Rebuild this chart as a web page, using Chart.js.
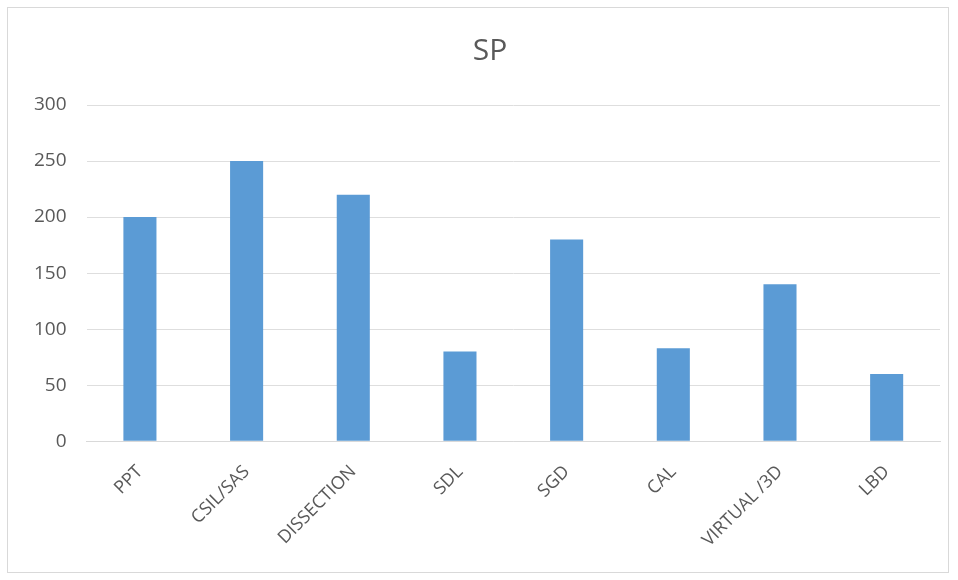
<!DOCTYPE html>
<html>
<head>
<meta charset="utf-8">
<script src="https://cdn.jsdelivr.net/npm/chart.js@4.4.1/dist/chart.umd.min.js"></script>
<style>
    body { margin: 0; background: #ffffff; }
    #wrap {
        position: absolute; left: 7px; top: 7px;
        width: 942px; height: 566px;
        border: 1px solid #d9d9d9;
        box-sizing: border-box;
        background: #ffffff;
    }
    #box { position: absolute; left: 0; top: 0; width: 958px; height: 580px; }
</style>
</head>
<body>
<div id="wrap"></div>
<div id="box"><canvas id="myChart" width="958" height="580"></canvas></div>
<script>
const categories = ["PPT", "CSIL/SAS", "DISSECTION", "SDL", "SGD", "CAL", "VIRTUAL /3D", "LBD"]
const spValues = [200, 250, 220, 80, 180, 83, 140, 60]
const yTicks = [0, 50, 100, 150, 200, 250, 300]

// the title in the picture sits a bit right of the canvas centre
const titleShift = {
    id: "titleShift",
    afterLayout(chart) {
        if (chart.titleBlock) chart.titleBlock.left += 26
    }
}

function createChart(){
    let htmlChart = document.getElementById("myChart")

    new Chart(htmlChart, {
        type: "bar",
        data: {
            labels: categories,
            datasets: [
                {
                    label: "SP",
                    data: spValues,
                    backgroundColor: "#5b9bd5",
                    categoryPercentage: 1.0,
                    barPercentage: 0.31,
                }
            ]
        },
        options: {
            responsive: false,
            animation: false,
            layout: {
                padding: { left: 14, right: 18, top: 0, bottom: 17 }
            },
            plugins: {
                legend: { display: false },
                tooltip: { enabled: false },
                title: {
                    display: true,
                    text: "SP",
                    color: "#595959",
                    font: { family: "Open Sans", size: 30, weight: "normal" },
                    padding: { top: 33, bottom: 36 }
                }
            },
            scales: {
                x: {
                    grid: { display: false },
                    border: { color: "#d9d9d9" },
                    ticks: {
                        color: "#595959",
                        font: { family: "Open Sans", size: 18 },
                        maxRotation: 45,
                        minRotation: 45,
                        padding: 12
                    }
                },
                y: {
                    min: 0,
                    max: 300,
                    afterBuildTicks: function(axis) {
                        axis.ticks = yTicks.map(v => ({ value: v }))
                    },
                    grid: { color: "#dedede", drawTicks: false },
                    border: { display: false },
                    ticks: {
                        color: "#595959",
                        font: { family: "Open Sans", size: 19 },
                        padding: 20
                    }
                }
            }
        },
        plugins: [titleShift]
    })
}

createChart()
</script>
</body>
</html>
